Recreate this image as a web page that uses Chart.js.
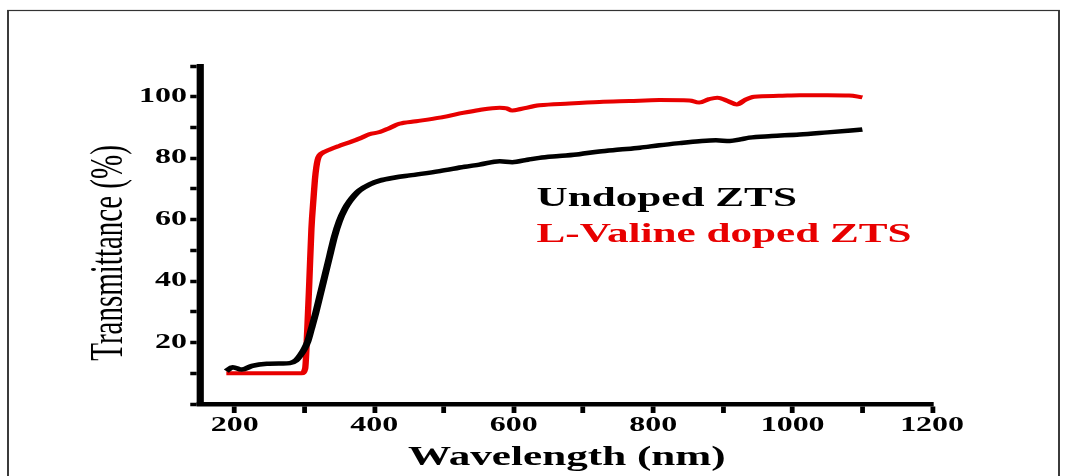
<!DOCTYPE html>
<html>
<head>
<meta charset="utf-8">
<script src="https://cdn.jsdelivr.net/npm/chart.js@4.4.1/dist/chart.umd.min.js"></script>
<style>
    html, body { margin: 0; padding: 0; background: #fff; }
    #plot { display: block; }
</style>
</head>
<body>
<canvas id="plot" width="668" height="476"></canvas>
<script>
// UV-Vis transmittance, wavelength in nm, T in %
const undopedNm = [188, 197, 210, 225, 246, 268, 279, 288, 294, 300, 305, 310, 316, 322, 329, 336, 343, 350, 358, 365, 372, 379, 394, 408, 430, 451, 494, 530, 551, 580, 598, 620, 637, 665, 694, 723, 752, 781, 809, 838, 866, 890, 910, 925, 938, 970, 1010, 1050, 1100];
const undopedT = [10.7, 12.0, 11.2, 12.4, 13.1, 13.2, 13.3, 14.2, 15.8, 18, 20.5, 24.5, 29.5, 35, 41.5, 48, 54.5, 59.5, 63.5, 66, 68, 69.5, 71.5, 72.7, 73.7, 74.4, 75.8, 77.2, 77.9, 79, 78.7, 79.5, 80.1, 80.7, 81.3, 82.2, 82.8, 83.4, 84.2, 84.9, 85.5, 85.8, 85.6, 86.1, 86.7, 87.2, 87.7, 88.4, 89.3];

const dopedNm = [188, 220, 260, 296, 301, 304, 307, 310, 313, 315, 317, 319, 322, 328, 336, 350, 365, 380, 393, 408, 422, 436, 460, 494, 520, 551, 580, 590, 598, 610, 637, 680, 723, 766, 809, 852, 866, 880, 892, 905, 920, 932, 945, 980, 1010, 1050, 1081, 1100];
const dopedT = [10, 10, 10, 10, 11.5, 24, 40, 57, 67, 73, 77, 79.5, 81, 82, 82.8, 84, 85.2, 86.5, 87.8, 88.5, 89.8, 91.2, 92, 93.2, 94.4, 95.7, 96.4, 96.2, 95.5, 96, 97.2, 97.8, 98.3, 98.6, 98.9, 98.8, 98.1, 99.2, 99.7, 98.8, 97.5, 99, 100, 100.3, 100.5, 100.5, 100.4, 99.8];

const seriesNames = ['Undoped ZTS', 'L-Valine doped ZTS'];
const seriesColors = ['#000000', '#e80000'];

const xTickLabels = [200, 400, 600, 800, 1000, 1200];
const yTickLabels = [20, 40, 60, 80, 100];

const FULL_W = 1068;
const SERIF = "'Liberation Serif', 'Times New Roman', serif";

function toPoints(xs, ys) {
    return xs.map((x, i) => ({x: x, y: ys[i]}));
}

const canvas = document.getElementById('plot');
const sx = FULL_W / canvas.width;

// whole figure is drawn wide: stretch everything horizontally
const stretch = {
    id: 'stretch',
    beforeDraw(chart) {
        chart.ctx.setTransform(sx, 0, 0, 1, 0, 0);
    }
};

// axis titles, legend text and the outer frame
const labels = {
    id: 'labels',
    afterDraw(chart) {
        const ctx = chart.ctx;
        const area = chart.chartArea;
        ctx.save();
        ctx.fillStyle = '#000';

        // y title
        ctx.save();
        ctx.translate(69, 253);
        ctx.rotate(-Math.PI / 2);
        ctx.font = '29px ' + SERIF;
        ctx.textAlign = 'center';
        ctx.textBaseline = 'middle';
        ctx.fillText('Transmittance (%)', 0, 0);
        ctx.restore();

        // x title
        ctx.font = 'bold 27px ' + SERIF;
        ctx.textAlign = 'center';
        ctx.textBaseline = 'alphabetic';
        ctx.fillText('Wavelength (nm)', 354.5, 465);

        // legend
        ctx.textAlign = 'left';
        ctx.fillStyle = seriesColors[0];
        ctx.fillText(seriesNames[0], 335.6, 206);
        ctx.fillStyle = seriesColors[1];
        ctx.fillText(seriesNames[1], 335.6, 241.5);

        // frame
        ctx.strokeStyle = '#333';
        ctx.lineWidth = 1.2;
        ctx.strokeRect(8 / sx, 10.5, (1059 - 8) / sx, 600);
        ctx.restore();
    }
};

const config = {
    type: 'line',
    data: {
        datasets: [
            {
                label: seriesNames[0],
                data: toPoints(undopedNm, undopedT),
                borderColor: seriesColors[0],
                borderWidth: 4.5,
                pointRadius: 0,
                cubicInterpolationMode: 'monotone',
                fill: false
            },
            {
                label: seriesNames[1],
                data: toPoints(dopedNm, dopedT),
                borderColor: seriesColors[1],
                borderWidth: 4,
                pointRadius: 0,
                cubicInterpolationMode: 'monotone',
                fill: false
            }
        ]
    },
    options: {
        responsive: false,
        animation: false,
        events: [],
        layout: {
            padding: {left: 0, right: 85, top: 66, bottom: 0}
        },
        plugins: {
            legend: {display: false},
            tooltip: {enabled: false}
        },
        scales: {
            x: {
                type: 'linear',
                min: 150,
                max: 1200,
                afterFit: (scale) => { scale.height = 72; },
                afterBuildTicks: (scale) => {
                    const t = [];
                    for (let v = 200; v <= 1200; v += 100) t.push({value: v});
                    scale.ticks = t;
                },
                border: {display: true, color: '#000', width: 4.5},
                grid: {
                    drawOnChartArea: false,
                    drawTicks: true,
                    tickLength: 9,
                    tickWidth: 3,
                    tickColor: '#000'
                },
                ticks: {
                    autoSkip: false,
                    maxRotation: 0,
                    padding: 1,
                    color: '#000',
                    font: {family: SERIF, size: 20, weight: 'bold'},
                    callback: (v) => xTickLabels.includes(v) ? String(v) : ''
                }
            },
            y: {
                type: 'linear',
                min: 0,
                max: 110,
                afterFit: (scale) => { scale.width = 125; },
                afterBuildTicks: (scale) => {
                    const t = [];
                    for (let v = 0; v <= 110; v += 10) t.push({value: v});
                    scale.ticks = t;
                },
                border: {display: true, color: '#000', width: 4.5},
                grid: {
                    drawOnChartArea: false,
                    drawTicks: true,
                    tickLength: 6,
                    tickWidth: 3.5,
                    tickColor: '#000'
                },
                ticks: {
                    autoSkip: false,
                    padding: 2,
                    color: '#000',
                    font: {family: SERIF, size: 20, weight: 'bold'},
                    callback: (v) => yTickLabels.includes(v) ? String(v) : ''
                }
            }
        }
    },
    plugins: [stretch, labels]
};

const chart = new Chart(canvas, config);

// widen the backing store and redraw through the stretch transform
canvas.width = FULL_W;
canvas.style.width = FULL_W + 'px';
chart.render();
</script>
</body>
</html>
